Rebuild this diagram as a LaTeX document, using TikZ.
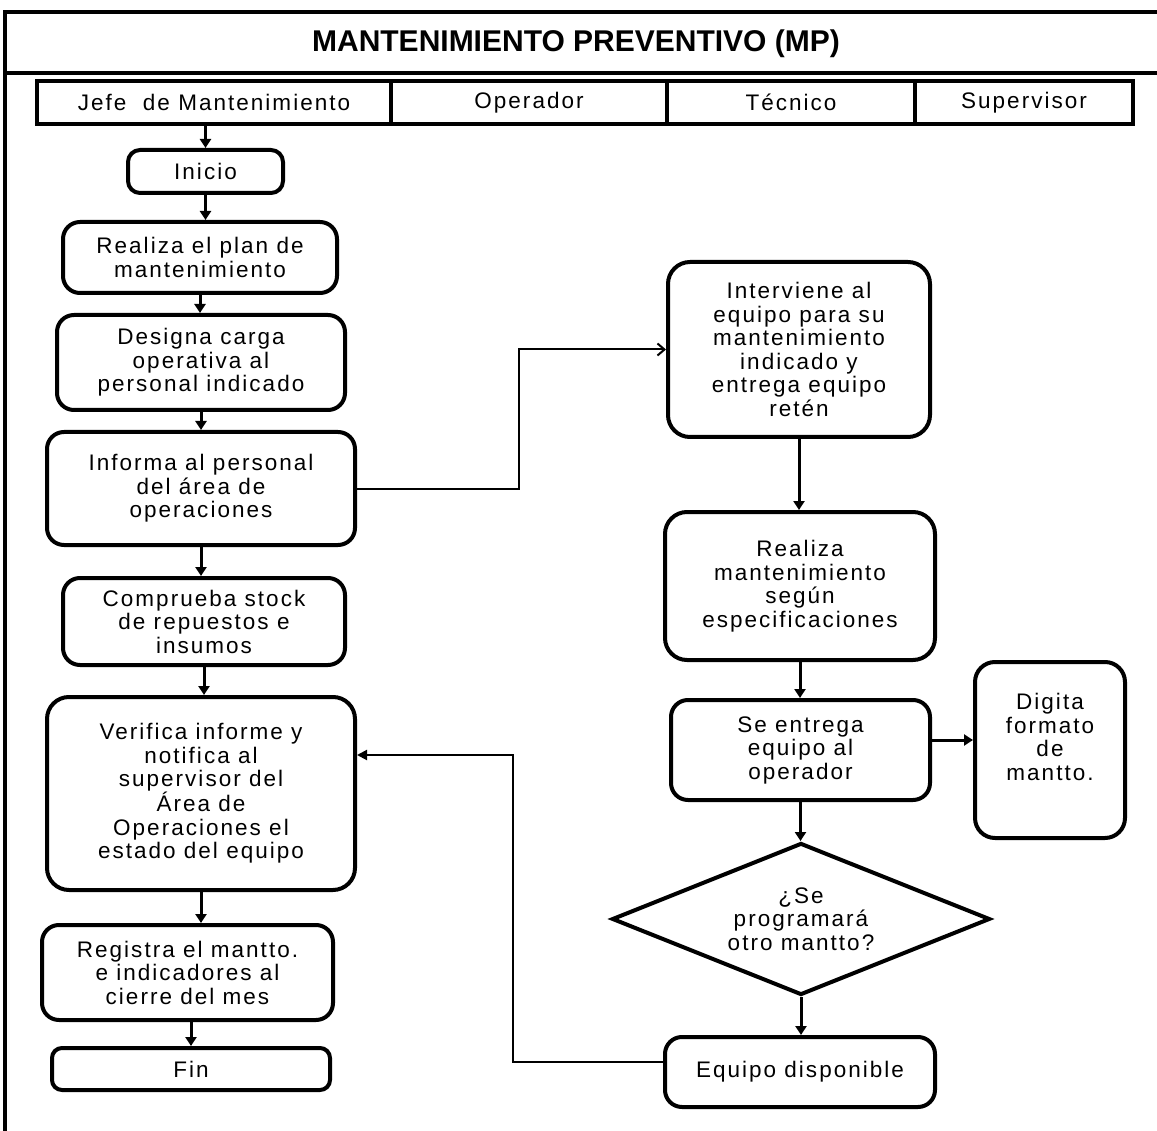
\documentclass[tikz,border=0pt]{standalone}
\usepackage{fontspec}
\setmainfont{Liberation Sans}
\newfontfamily\boxfont[LetterSpace=9]{Liberation Sans}
\usetikzlibrary{shapes.geometric,arrows.meta,calc}

\begin{document}
\begin{tikzpicture}[x=1pt,y=-1pt,
  txt/.style={font=\boxfont\fontsize{22.5}{23.5}\selectfont, align=center, inner sep=0pt},
  proc/.style={txt, draw, line width=4pt, rounded corners=17pt},
  lane/.style={txt, draw, line width=4pt, minimum height=43pt},
  dec/.style={txt, draw, line width=4pt, diamond, aspect=2.5,
    minimum width=378pt, minimum height=152pt},
  flow/.style={line width=3pt, -{Triangle[length=9pt,width=11pt]}},
  link/.style={line width=2pt, -{Straight Barb[length=7pt,width=12pt]}},
  back/.style={line width=2pt, -{Triangle[length=10pt,width=10pt]}}
]
\useasboundingbox (0,0) rectangle (1157,1131);
\clip (0,0) rectangle (1157,1131);

% outer frame and title band
\draw[line width=4pt] (1175,12) -- (5,12) -- (5,1140);
\draw[line width=4pt] (5,73) -- (1175,73);
\node[font=\bfseries\fontsize{30}{36}\selectfont] (title) at (576,44) {MANTENIMIENTO PREVENTIVO (MP)};

% swimlane headers
\node[lane, minimum width=354pt] (jefe) at (214,102.5) {Jefe\ \ de Mantenimiento};
\node[lane, minimum width=276pt] (oper) at (529,102.5) {Operador};
\node[lane, minimum width=248pt] (tec)  at (791,102.5) {Técnico};
\node[lane, minimum width=218pt] (sup)  at (1024,102.5) {Supervisor};

% left column
\node[proc, minimum width=155pt, minimum height=43pt, rounded corners=12pt] (ini) at (205.5,171.5) {Inicio};
\node[proc, minimum width=274pt, minimum height=71pt] (plan) at (200,257.5) {Realiza el plan de\\mantenimiento};
\node[proc, minimum width=288pt, minimum height=95pt] (carga) at (201,362.5) {Designa carga\\operativa al\\personal indicado};
\node[proc, minimum width=308pt, minimum height=113pt] (inf) at (201,488.5) {Informa al personal\\del área de\\operaciones};
\node[proc, minimum width=282pt, minimum height=87pt] (stock) at (204,621.5) {Comprueba stock\\de repuestos e\\insumos};
\node[proc, minimum width=308pt, minimum height=193pt, rounded corners=22pt] (ver) at (201,793.5) {Verifica informe y\\notifica al\\supervisor del\\Área de\\Operaciones el\\estado del equipo};
\node[proc, minimum width=291pt, minimum height=95pt] (reg) at (187.5,972.5) {Registra el mantto.\\e indicadores al\\cierre del mes};
\node[proc, minimum width=278pt, minimum height=42pt, rounded corners=10pt] (fin) at (191,1069) {Fin};

% right column
\node[proc, minimum width=262pt, minimum height=175pt, rounded corners=22pt] (int) at (799,349.5) {Interviene al\\equipo para su\\mantenimiento\\indicado y\\entrega equipo\\retén};
\node[proc, minimum width=270pt, minimum height=148pt, rounded corners=22pt] (rm) at (800,586) {Realiza\\mantenimiento\\según\\especificaciones};
\node[proc, minimum width=259pt, minimum height=100pt] (ent) at (800.5,750) {Se entrega\\equipo al\\operador};
\node[proc, minimum width=150pt, minimum height=176pt, rounded corners=20pt] (dig) at (1050,750) {};
\node[txt] (digt) at (1050,737) {Digita\\formato\\de\\mantto.};
\node[dec] (q) at (801,919) {¿Se\\programará\\otro mantto?};
\node[proc, minimum width=270pt, minimum height=70pt] (eq) at (800,1072) {Equipo disponible};

% main flow
\draw[flow] (ini.north |- jefe.south) -- (ini.north);
\draw[flow] (ini.south) -- (ini.south |- plan.north);
\draw[flow] (plan.south) -- (plan.south |- carga.north);
\draw[flow] (carga.south) -- (carga.south |- inf.north);
\draw[flow] (inf.south) -- (inf.south |- stock.north);
\draw[flow] (stock.south) -- (stock.south |- ver.north);
\draw[flow] (ver.south) -- (ver.south |- reg.north);
\draw[flow] (reg.south -| fin) -- (fin.north);

\draw[flow] (int.south) -- (int.south |- rm.north);
\draw[flow] (rm.south) -- (rm.south |- ent.north);
\coordinate (e1) at ([yshift=10pt]ent.east);
\draw[flow] (e1) -- (e1 -| dig.west);
\draw[flow] (ent.south) -- (ent.south |- q.north);
\draw[flow] (q.south) -- (q.south |- eq.north);

% cross-lane connectors
\coordinate (j1) at (519,400);
\draw[link] (inf.east) -- (inf.east -| j1) |- (int.west);
\coordinate (e2) at ([yshift=10pt]eq.west);
\coordinate (j2) at (513,755);
\draw[back] (e2) -| (j2) -- (j2 -| ver.east);

\end{tikzpicture}
\end{document}
